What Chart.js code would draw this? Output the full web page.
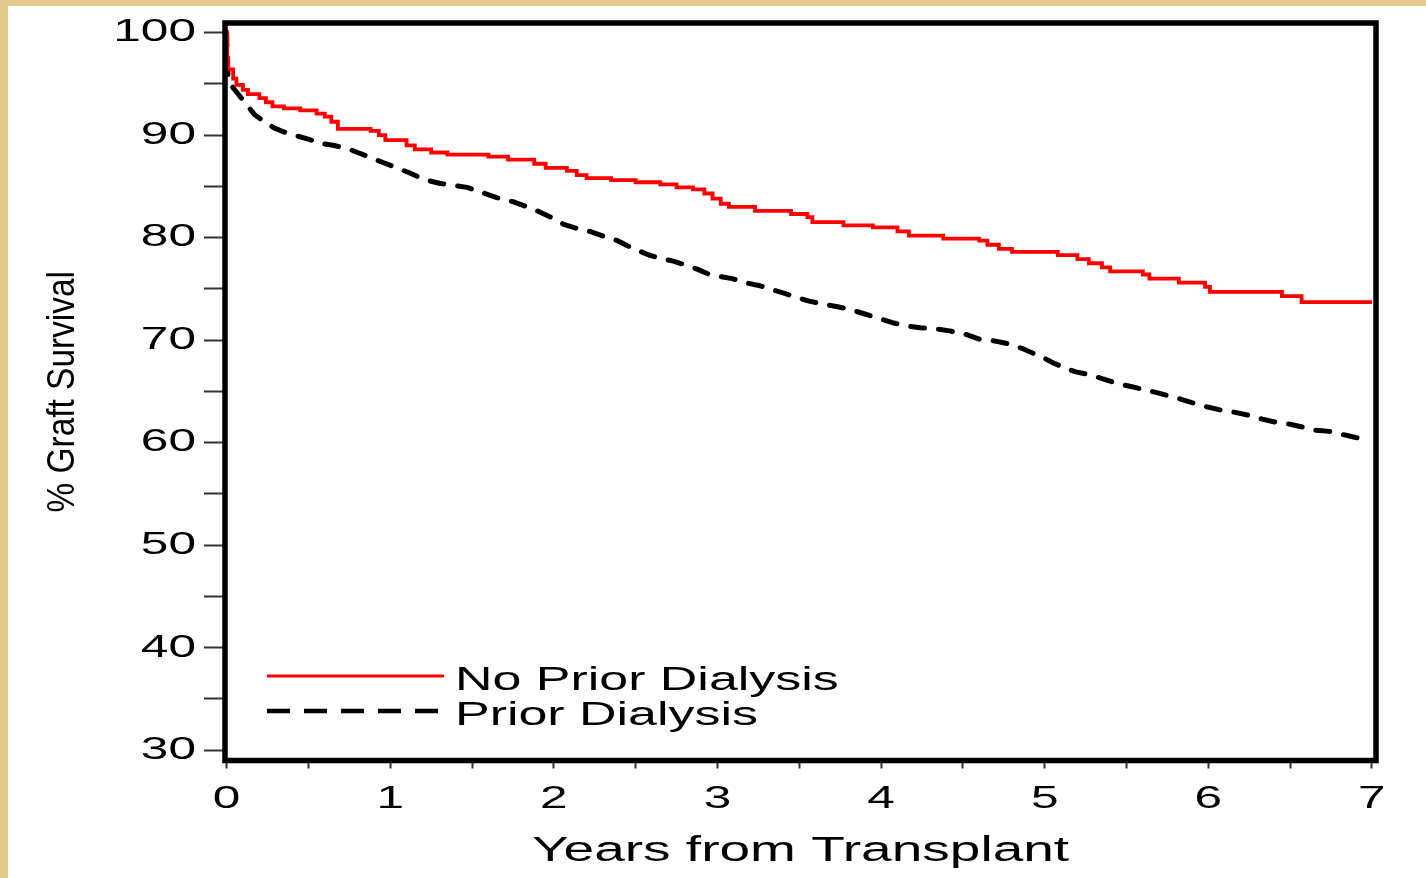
<!DOCTYPE html>
<html>
<head>
<meta charset="utf-8">
<script src="https://cdn.jsdelivr.net/npm/chart.js@4/dist/chart.umd.min.js"></script>
<style>
  html, body { margin: 0; padding: 0; background: #e2c98e; }
  #wrap { width: 1426px; height: 878px; }
</style>
</head>
<body>
<div id="wrap"><canvas id="km" width="1426" height="878"></canvas></div>
<script>
// Kaplan-Meier readings (years, % graft survival)
const noPriorYears = [0, 0.003, 0.01, 0.04, 0.06, 0.1, 0.13, 0.2, 0.24, 0.28, 0.35, 0.45, 0.55, 0.6, 0.64, 0.68,
  0.88, 0.93, 0.97, 1.1, 1.15, 1.25, 1.35, 1.6, 1.72, 1.88, 1.95, 2.08, 2.14, 2.2, 2.35, 2.5, 2.65, 2.75,
  2.85, 2.92, 2.97, 3.02, 3.07, 3.23, 3.45, 3.55, 3.58, 3.77, 3.95, 4.1, 4.17, 4.38, 4.6, 4.65, 4.72, 4.8,
  5.08, 5.2, 5.27, 5.35, 5.4, 5.6, 5.64, 5.82, 5.98, 6.01, 6.45, 6.57, 7.0];
const noPriorSurv = [100, 97.5, 96.4, 95.5, 94.9, 94.4, 94.0, 93.6, 93.2, 92.8, 92.6, 92.4, 92.1, 91.8, 91.3, 90.6,
  90.4, 90.0, 89.5, 89.0, 88.6, 88.3, 88.1, 87.9, 87.6, 87.2, 86.8, 86.5, 86.1, 85.8, 85.6, 85.4, 85.2, 84.9,
  84.7, 84.3, 83.8, 83.3, 83.0, 82.6, 82.3, 82.0, 81.5, 81.2, 81.0, 80.6, 80.2, 79.9, 79.7, 79.3, 78.9, 78.6,
  78.3, 77.9, 77.5, 77.1, 76.7, 76.4, 76.0, 75.6, 75.2, 74.7, 74.3, 73.7, 73.7];

const priorYears = [0, 0.004, 0.01, 0.04, 0.07, 0.12, 0.17, 0.23, 0.29, 0.35, 0.41, 0.5, 0.57, 0.65, 0.74, 0.8,
  0.88, 0.96, 1.04, 1.12, 1.2, 1.3, 1.47, 1.56, 1.65, 1.75, 1.82, 1.9, 1.98, 2.06, 2.14, 2.22, 2.31, 2.39,
  2.45, 2.5, 2.58, 2.65, 2.73, 2.81, 2.88, 2.95, 3.02, 3.09, 3.17, 3.26, 3.34, 3.42, 3.5, 3.56, 3.65, 3.75,
  3.83, 3.91, 3.99, 4.07, 4.15, 4.24, 4.33, 4.42, 4.51, 4.6, 4.7, 4.79, 4.86, 4.93, 4.99, 5.05, 5.12, 5.19,
  5.28, 5.36, 5.44, 5.52, 5.6, 5.68, 5.75, 5.82, 5.9, 5.99, 6.07, 6.15, 6.24, 6.33, 6.41, 6.5, 6.58, 6.66,
  6.74, 6.82, 6.9, 6.99];
const priorSurv = [100, 97, 95.4, 94.6, 94.0, 93.0, 92.0, 91.3, 90.7, 90.3, 90.0, 89.6, 89.2, 89.0, 88.7, 88.3,
  87.8, 87.3, 86.8, 86.3, 85.7, 85.3, 84.9, 84.4, 83.9, 83.5, 83.1, 82.6, 82.0, 81.3, 80.9, 80.6, 80.1, 79.7,
  79.2, 78.85, 78.3, 78.0, 77.7, 77.3, 76.9, 76.4, 76.2, 76.0, 75.6, 75.3, 74.9, 74.5, 74.1, 73.8, 73.5, 73.2,
  72.9, 72.5, 72.1, 71.7, 71.4, 71.2, 71.1, 70.9, 70.6, 70.1, 69.9, 69.6, 69.2, 68.7, 68.3, 67.8, 67.3, 66.9,
  66.6, 66.2, 65.8, 65.5, 65.2, 64.9, 64.6, 64.3, 63.9, 63.5, 63.2, 63.0, 62.7, 62.3, 62.0, 61.8, 61.5, 61.2,
  61.1, 60.8, 60.5, 60.3];

const seriesNames = ['No Prior Dialysis', 'Prior Dialysis'];
const xTicks = [0, 0.5, 1, 1.5, 2, 2.5, 3, 3.5, 4, 4.5, 5, 5.5, 6, 6.5, 7];
const yTicks = [30, 35, 40, 45, 50, 55, 60, 65, 70, 75, 80, 85, 90, 95, 100];
const xTitle = 'Years from Transplant';
const yTitle = '% Graft Survival';

const canvas = document.getElementById('km');
const ctx = canvas.getContext('2d');

// the source uses a wide, stretched sans face; emulate by scaling text horizontally
const rawFillText = ctx.fillText;
ctx.fillText = function (text, x, y) {
  const sx = text === yTitle ? 0.88 : 1.55;
  this.save();
  this.translate(x, y);
  this.scale(sx, 1);
  rawFillText.call(this, text, 0, 0);
  this.restore();
};

const pts = (xs, ys) => xs.map((x, i) => ({ x: x, y: ys[i] }));

const framePlugin = {
  id: 'frame',
  beforeDraw(chart) {
    const c = chart.ctx;
    c.save();
    c.fillStyle = '#e2c98e';
    c.fillRect(0, 0, chart.width, chart.height);
    c.fillStyle = '#ffffff';
    c.fillRect(8, 6, chart.width - 8, chart.height - 6);
    c.restore();
  },
  afterDatasetsDraw(chart) {
    const a = chart.chartArea;
    const c = chart.ctx;
    c.save();
    c.strokeStyle = '#000';
    c.lineWidth = 5.5;
    c.strokeRect(a.left, a.top, a.right - a.left, a.bottom - a.top);

    // legend inside the plot, bottom left
    c.font = '33.5px "Liberation Sans", Arial, sans-serif';
    c.textBaseline = 'middle';
    c.textAlign = 'left';
    chart.data.datasets.forEach((ds, i) => {
      const y = 676 + i * 35;
      c.beginPath();
      c.strokeStyle = ds.borderColor;
      c.lineWidth = i === 0 ? 3 : 4.5;
      c.setLineDash(i === 0 ? [] : [23, 14]);
      c.moveTo(a.left + 42, y);
      c.lineTo(a.left + 219, y);
      c.stroke();
      c.setLineDash([]);
      c.fillStyle = '#000';
      c.fillText(ds.label, a.left + 230, y + 5);
    });
    c.restore();
  }
};

new Chart(ctx, {
  type: 'line',
  data: {
    datasets: [
      {
        label: seriesNames[0],
        data: pts(noPriorYears, noPriorSurv),
        borderColor: '#ff0000',
        borderWidth: 3.8,
        stepped: true,
        pointRadius: 0,
        fill: false
      },
      {
        label: seriesNames[1],
        data: pts(priorYears, priorSurv),
        borderColor: '#000000',
        borderWidth: 5,
        borderDash: [14, 14],
        borderCapStyle: 'round',
        borderJoinStyle: 'round',
        tension: 0,
        pointRadius: 0,
        fill: false
      }
    ]
  },
  options: {
    responsive: false,
    animation: false,
    layout: { padding: { left: 8, top: 23, right: 50, bottom: 0 } },
    plugins: {
      legend: { display: false },   // drawn by the frame plugin inside the plot
      tooltip: { enabled: false }
    },
    scales: {
      x: {
        type: 'linear',
        min: -0.01,
        max: 7.025,
        afterFit: s => { s.height = 117.5; s.paddingLeft = 0; s.paddingRight = 0; },
        afterBuildTicks: s => { s.ticks = xTicks.map(v => ({ value: v })); },
        border: { display: false },
        grid: { drawOnChartArea: false, drawTicks: true, tickLength: 8, tickWidth: 2, tickColor: '#333' },
        ticks: {
          autoSkip: false,
          maxRotation: 0,
          padding: 11,
          color: '#000',
          font: { family: '"Liberation Sans", Arial, sans-serif', size: 32 },
          callback: v => (Number.isInteger(v) ? String(v) : '')
        },
        title: {
          display: true,
          text: xTitle,
          color: '#000',
          font: { family: '"Liberation Sans", Arial, sans-serif', size: 35.5 },
          padding: { top: 0, bottom: 5 }
        }
      },
      y: {
        min: 29,
        max: 100.93,
        afterFit: s => { s.width = 217; s.paddingTop = 0; s.paddingBottom = 0; },
        afterBuildTicks: s => { s.ticks = yTicks.map(v => ({ value: v })); },
        border: { display: false },
        grid: { drawOnChartArea: false, drawTicks: true, tickLength: 21, tickWidth: 2, tickColor: '#333' },
        ticks: {
          padding: 8,
          color: '#000',
          font: { family: '"Liberation Sans", Arial, sans-serif', size: 32 },
          callback: v => (v % 10 === 0 ? String(v) : '')
        },
        title: {
          display: true,
          text: yTitle,
          color: '#000',
          font: { family: '"Liberation Sans", Arial, sans-serif', size: 38 },
          padding: { top: 33, bottom: 0 }
        }
      }
    }
  },
  plugins: [framePlugin]
});
</script>
</body>
</html>
